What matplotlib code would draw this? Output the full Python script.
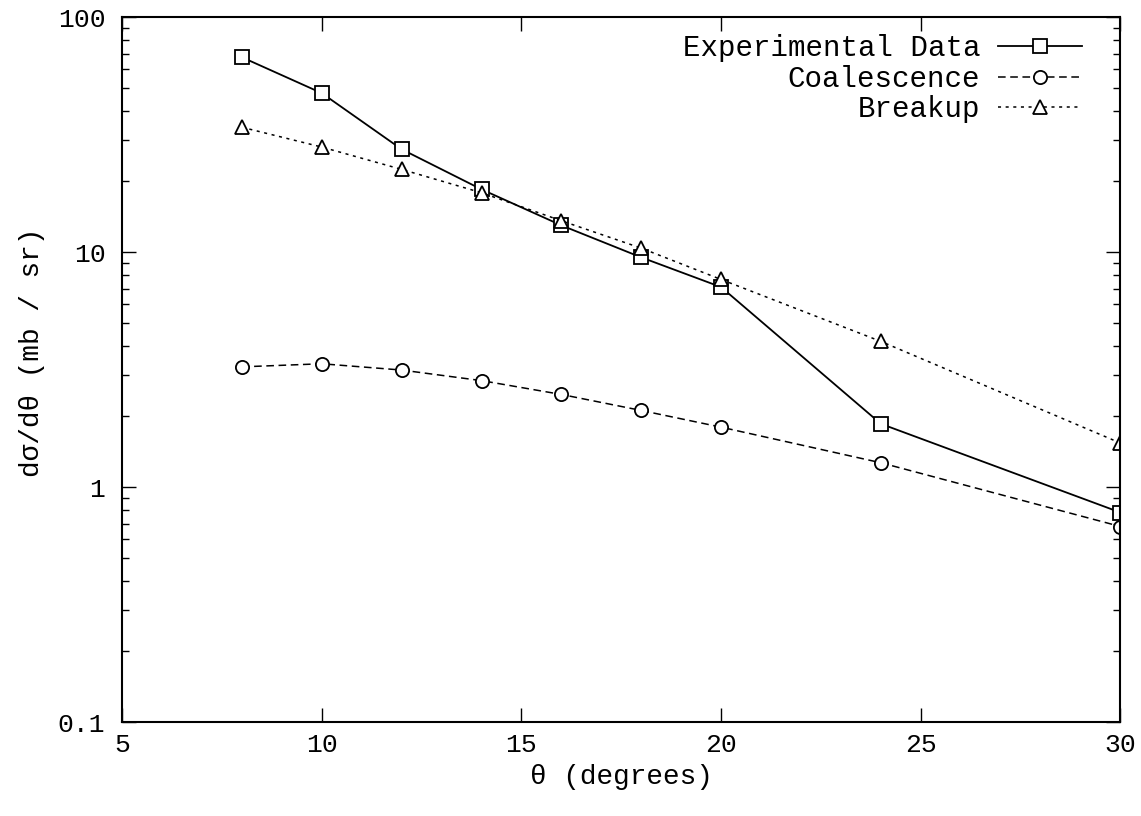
import matplotlib.pyplot as plt
from matplotlib.ticker import FixedLocator, FixedFormatter, LogLocator, NullFormatter

plt.rcParams['font.family'] = ['Liberation Mono', 'DejaVu Sans Mono']

# angles (degrees)
theta = [8, 10, 12, 14, 16, 18, 20, 24, 30]
experimental = [67.5, 47.5, 27.4, 18.5, 13.0, 9.5, 7.1, 1.86, 0.78]
coalescence = [3.25, 3.35, 3.15, 2.84, 2.48, 2.12, 1.8, 1.27, 0.68]
breakup = [34.0, 28.0, 22.5, 17.9, 13.6, 10.4, 7.65, 4.17, 1.54]

xticks = [5, 10, 15, 20, 25, 30]
yticks = [0.1, 1, 10, 100]
ytick_labels = ["0.1", "1", "10", "100"]

fig = plt.figure(figsize=(11.41, 8.16), dpi=100)
ax = fig.add_axes([0.107, 0.115, 0.875, 0.864])

ax.plot(theta, experimental, color="black", lw=1.3, ls="-", marker="s",
        ms=10, mfc="white", mec="black", mew=1.3, label="Experimental Data")
ax.plot(theta, coalescence, color="black", lw=1.1, ls=(0, (5, 3)), marker="o",
        ms=9.5, mfc="white", mec="black", mew=1.3, label="Coalescence")
ax.plot(theta, breakup, color="black", lw=1.1, ls=(0, (2, 3)), marker="^",
        ms=9.5, mfc="white", mec="black", mew=1.3, label="Breakup")

ax.set_yscale("log")
ax.set_xlim(5, 30)
ax.set_ylim(0.1, 100)

ax.xaxis.set_major_locator(FixedLocator(xticks))
ax.yaxis.set_major_locator(FixedLocator(yticks))
ax.yaxis.set_major_formatter(FixedFormatter(ytick_labels))
ax.yaxis.set_minor_locator(LogLocator(base=10, subs=range(2, 10)))
ax.yaxis.set_minor_formatter(NullFormatter())

ax.tick_params(which="both", direction="in", top=True, right=True,
               labelsize=19, width=1.0)
ax.tick_params(axis="x", pad=8)
ax.tick_params(axis="y", pad=12)
ax.tick_params(which="major", length=10)
ax.tick_params(which="minor", length=5)
for s in ax.spines.values():
    s.set_linewidth(1.5)

ax.set_xlabel("θ (degrees)", fontsize=20, labelpad=5)
ax.set_ylabel("dσ/dθ (mb / sr)", fontsize=20)
ax.yaxis.set_label_coords(-0.077, 0.525)

ax.legend(loc="upper right", bbox_to_anchor=(0.972, 0.99), frameon=False,
          markerfirst=False, fontsize=21, handlelength=2.9, labelspacing=0.08,
          borderaxespad=0.0, borderpad=0.35, handletextpad=0.6)

fig.savefig("out.png", dpi=100)
